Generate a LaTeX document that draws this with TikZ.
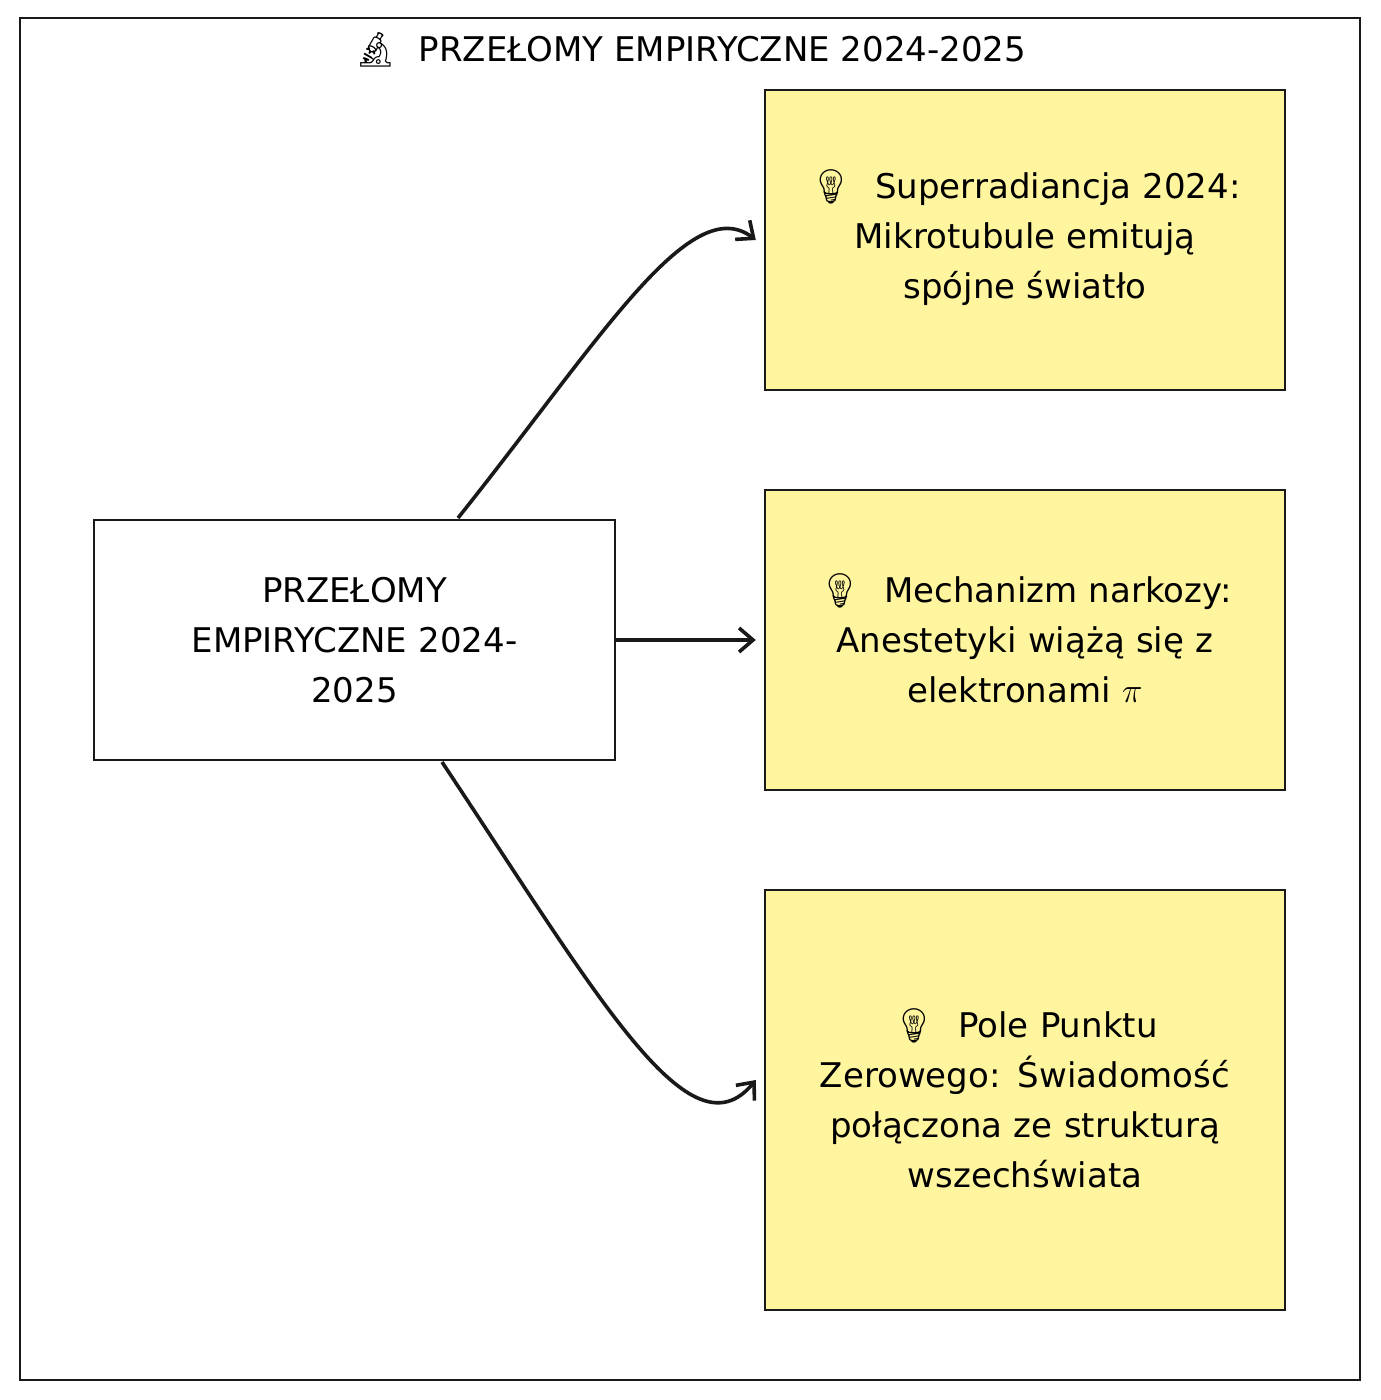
\documentclass[tikz,border=0pt]{standalone}
\usepackage{fontspec}
\setmainfont{DejaVu Sans}
\newfontfamily\emo{Noto Emoji}
\usetikzlibrary{arrows.meta}
\definecolor{note}{HTML}{FFF59F}
\tikzset{
 box/.style={draw=black!90,line width=1.2pt,inner sep=0pt},
 note/.style={box,fill=note},
 lbl/.style={align=center,font=\fontsize{17}{25}\selectfont,text width=250pt},
 conn/.style={draw=black!90,line width=1.8pt,-{Straight Barb[length=7pt,width=12pt]}}
}
\begin{document}
\begin{tikzpicture}[x=0.5pt,y=-0.5pt]
\useasboundingbox (0,0) rectangle (1380,1400);
\draw[box] (20,18) rectangle (1360,1380);
\node (title) at (690,50) {\fontsize{17}{20}\selectfont{\emo 🔬}\ \ PRZEŁOMY EMPIRYCZNE 2024-2025};
\node[box,minimum width=260.5pt,minimum height=120pt] (c) at (354.5,640) {};
\node[lbl,text width=220pt] at (c) {PRZEŁOMY\\EMPIRYCZNE 2024-\\2025};
\node[note,minimum width=260pt,minimum height=150pt] (a) at (1025,240) {};
\node[lbl] at (1025,238) {{\emo 💡}\ \ Superradiancja 2024:\\Mikrotubule emitują\\spójne światło};
\node[note,minimum width=260pt,minimum height=150pt] (b) at (1025,640) {};
\node[lbl] at (1025,638) {{\emo 💡}\ \ Mechanizm narkozy:\\Anestetyki wiążą się z\\elektronami $\pi$};
\node[note,minimum width=260pt,minimum height=210pt] (d) at (1025,1100) {};
\node[lbl] at (1025,1098) {{\emo 💡}\ \ Pole Punktu\\Zerowego: Świadomość\\połączona ze strukturą\\wszechświata};
\coordinate (s1) at (458,518);
\coordinate (s3) at (442,762);
\draw[conn] (s1) .. controls (600,340) and (690,190) .. ([xshift=-4pt]a.west);
\draw[conn] (c.east) -- ([xshift=-4pt]b.west);
\draw[conn] (s3) .. controls (600,1000) and (690,1160) .. ([xshift=-4pt,yshift=10pt]d.west);
\end{tikzpicture}
\end{document}
